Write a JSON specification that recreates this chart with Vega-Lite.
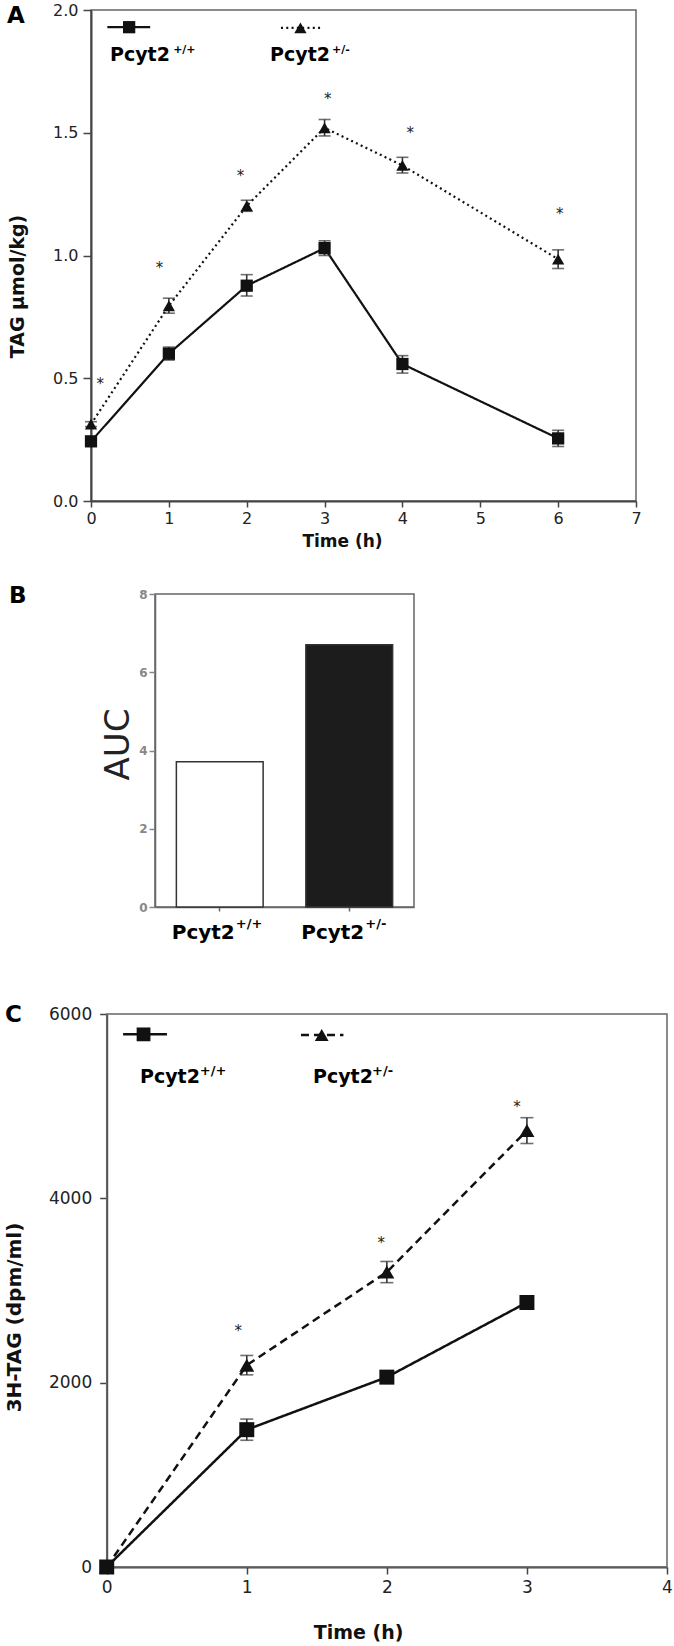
{
  "$schema": "https://vega.github.io/schema/vega-lite/v6.json",
  "padding": {"left": 4, "right": 0, "top": 1, "bottom": 0},
  "background": "white",
  "config": {
    "view": {"stroke": "#666", "strokeWidth": 1.5},
    "axis": {"grid": false, "domainColor": "#444", "domainWidth": 2, "tickColor": "#444", "tickWidth": 1.5, "labelColor": "#222", "labelFont": "DejaVu Sans", "titleFont": "DejaVu Sans", "titleColor": "#111", "labelFlush": false, "labelOverlap": false},
    "title": {"font": "DejaVu Sans", "fontWeight": "bold", "color": "#000", "anchor": "start", "frame": "group", "offset": 0, "baseline": "alphabetic"}
  },
  "datasets": {
    "A": [
      {"t": 0, "v": 0.243, "lo": 0.228, "hi": 0.258, "g": "+/+"},
      {"t": 1, "v": 0.600, "lo": 0.574, "hi": 0.627, "g": "+/+"},
      {"t": 2, "v": 0.877, "lo": 0.835, "hi": 0.922, "g": "+/+"},
      {"t": 3, "v": 1.030, "lo": 1.000, "hi": 1.060, "g": "+/+"},
      {"t": 4, "v": 0.558, "lo": 0.521, "hi": 0.592, "g": "+/+"},
      {"t": 6, "v": 0.255, "lo": 0.222, "hi": 0.288, "g": "+/+"},
      {"t": 0, "v": 0.313, "lo": 0.303, "hi": 0.323, "g": "+/-"},
      {"t": 1, "v": 0.795, "lo": 0.765, "hi": 0.826, "g": "+/-"},
      {"t": 2, "v": 1.202, "lo": 1.180, "hi": 1.225, "g": "+/-"},
      {"t": 3, "v": 1.520, "lo": 1.487, "hi": 1.554, "g": "+/-"},
      {"t": 4, "v": 1.367, "lo": 1.336, "hi": 1.400, "g": "+/-"},
      {"t": 6, "v": 0.985, "lo": 0.947, "hi": 1.023, "g": "+/-"}
    ],
    "Astars": [
      {"t": 0.12, "v": 0.49}, {"t": 0.88, "v": 0.96}, {"t": 1.92, "v": 1.335},
      {"t": 3.04, "v": 1.65}, {"t": 4.10, "v": 1.512}, {"t": 6.02, "v": 1.182}
    ],
    "Aleg": [
      {"g": "+/+", "t": 0.21, "v": 1.93}, {"g": "+/+", "t": 0.76, "v": 1.93},
      {"g": "+/-", "t": 2.44, "v": 1.927}, {"g": "+/-", "t": 2.97, "v": 1.927}
    ],
    "AlegPts": [
      {"g": "+/+", "t": 0.49, "v": 1.93}, {"g": "+/-", "t": 2.69, "v": 1.927}
    ],
    "Alab": [
      {"t": 0.244, "v": 1.793, "s": "Pcyt2"}, {"t": 2.30, "v": 1.793, "s": "Pcyt2"}
    ],
    "Asup": [
      {"t": 1.055, "v": 1.824, "s": "+/+"}, {"t": 3.095, "v": 1.824, "s": "+/-"}
    ],
    "B": [
      {"g": "+/+", "v": 3.71, "main": "Pcyt2", "sup": "+/+"},
      {"g": "+/-", "v": 6.70, "main": "Pcyt2", "sup": "+/-"}
    ],
    "C": [
      {"t": 0, "v": 0, "lo": 0, "hi": 0, "g": "+/+"},
      {"t": 1, "v": 1490, "lo": 1375, "hi": 1605, "g": "+/+"},
      {"t": 2, "v": 2060, "lo": 1995, "hi": 2125, "g": "+/+"},
      {"t": 3, "v": 2870, "lo": 2835, "hi": 2905, "g": "+/+"},
      {"t": 0, "v": 0, "lo": 0, "hi": 0, "g": "+/-"},
      {"t": 1, "v": 2190, "lo": 2085, "hi": 2295, "g": "+/-"},
      {"t": 2, "v": 3200, "lo": 3085, "hi": 3315, "g": "+/-"},
      {"t": 3, "v": 4735, "lo": 4595, "hi": 4875, "g": "+/-"}
    ],
    "Cframe": [
      {"t0": 0, "t1": 4, "v0": 0, "v1": 6000}
    ],
    "Cstars": [
      {"t": 0.94, "v": 2590}, {"t": 1.96, "v": 3550}, {"t": 2.93, "v": 5020}
    ],
    "Cleg": [
      {"g": "+/+", "t": 0.117, "v": 5779}, {"g": "+/+", "t": 0.43, "v": 5779},
      {"g": "+/-", "t": 1.387, "v": 5772}, {"g": "+/-", "t": 1.69, "v": 5772}
    ],
    "ClegPts": [
      {"g": "+/+", "t": 0.263, "v": 5779}, {"g": "+/-", "t": 1.535, "v": 5772}
    ],
    "Clab": [
      {"t": 0.238, "v": 5254, "s": "Pcyt2"}, {"t": 1.473, "v": 5254, "s": "Pcyt2"}
    ],
    "Csup": [
      {"t": 0.665, "v": 5340, "s": "+/+"}, {"t": 1.894, "v": 5340, "s": "+/-"}
    ]
  },
  "columns": 1,
  "spacing": 59,
  "resolve": {"scale": {"strokeDash": "independent", "shape": "independent", "fill": "independent"}},
  "concat": [
    {
      "columns": 1,
      "spacing": 34,
      "resolve": {"scale": {"strokeDash": "independent", "shape": "independent"}},
      "concat": [
        {
          "width": 545,
          "height": 491,
          "title": {"text": "A", "fontSize": 23, "dx": -84, "dy": 30},
          "layer": [
            {
              "data": {"name": "A"},
              "mark": {"type": "line", "color": "#111", "strokeWidth": 2.2},
              "encoding": {
                "x": {"field": "t", "type": "quantitative", "scale": {"domain": [0, 7], "nice": false},
                  "axis": {"values": [0, 1, 2, 3, 4, 5, 6, 7], "format": "d", "title": "Time (h)", "titleFontSize": 17, "titleFontWeight": "bold", "titleX": 251, "titleY": 45, "titleAlign": "center", "titleBaseline": "alphabetic", "labelFontSize": 16, "tickSize": 6, "labelPadding": 3}},
                "y": {"field": "v", "type": "quantitative", "scale": {"domain": [0, 2], "nice": false},
                  "axis": {"values": [0, 0.5, 1, 1.5, 2], "format": ".1f", "title": "TAG μmol/kg)", "titleFontSize": 19, "titleFontWeight": "bold", "titleX": -68, "titleY": 276, "titleAngle": 270, "titleAlign": "center", "titleBaseline": "alphabetic", "labelFontSize": 16, "tickSize": 8, "labelPadding": 5}},
                "detail": {"field": "g"},
                "strokeDash": {"field": "g", "type": "nominal", "scale": {"domain": ["+/+", "+/-"], "range": [[1, 0], [2, 3.3]]}, "legend": null}
              }
            },
            {
              "data": {"name": "A"},
              "mark": {"type": "errorbar", "ticks": true, "size": 12, "thickness": 1.6, "color": "#333"},
              "encoding": {
                "x": {"field": "t", "type": "quantitative", "scale": {"domain": [0, 7], "nice": false},
                  "axis": {"values": [0, 1, 2, 3, 4, 5, 6, 7], "format": "d", "title": "Time (h)", "titleFontSize": 17, "titleFontWeight": "bold", "titleX": 251, "titleY": 45, "titleAlign": "center", "titleBaseline": "alphabetic", "labelFontSize": 16, "tickSize": 6, "labelPadding": 3}},
                "y": {"field": "lo", "type": "quantitative", "scale": {"domain": [0, 2], "nice": false},
                  "axis": {"values": [0, 0.5, 1, 1.5, 2], "format": ".1f", "title": "TAG μmol/kg)", "titleFontSize": 19, "titleFontWeight": "bold", "titleX": -68, "titleY": 276, "titleAngle": 270, "titleAlign": "center", "titleBaseline": "alphabetic", "labelFontSize": 16, "tickSize": 8, "labelPadding": 5}},
                "y2": {"field": "hi"},
                "detail": {"field": "g"}
              }
            },
            {
              "data": {"name": "A"},
              "mark": {"type": "point", "filled": true, "opacity": 1, "color": "#111", "size": 150},
              "encoding": {
                "x": {"field": "t", "type": "quantitative", "scale": {"domain": [0, 7], "nice": false},
                  "axis": {"values": [0, 1, 2, 3, 4, 5, 6, 7], "format": "d", "title": "Time (h)", "titleFontSize": 17, "titleFontWeight": "bold", "titleX": 251, "titleY": 45, "titleAlign": "center", "titleBaseline": "alphabetic", "labelFontSize": 16, "tickSize": 6, "labelPadding": 3}},
                "y": {"field": "v", "type": "quantitative", "scale": {"domain": [0, 2], "nice": false},
                  "axis": {"values": [0, 0.5, 1, 1.5, 2], "format": ".1f", "title": "TAG μmol/kg)", "titleFontSize": 19, "titleFontWeight": "bold", "titleX": -68, "titleY": 276, "titleAngle": 270, "titleAlign": "center", "titleBaseline": "alphabetic", "labelFontSize": 16, "tickSize": 8, "labelPadding": 5}},
                "shape": {"field": "g", "type": "nominal", "scale": {"domain": ["+/+", "+/-"], "range": ["square", "triangle-up"]}, "legend": null}
              }
            },
            {
              "data": {"name": "Aleg"},
              "mark": {"type": "line", "color": "#111", "strokeWidth": 2.2},
              "encoding": {
                "x": {"field": "t", "type": "quantitative", "scale": {"domain": [0, 7], "nice": false},
                  "axis": {"values": [0, 1, 2, 3, 4, 5, 6, 7], "format": "d", "title": "Time (h)", "titleFontSize": 17, "titleFontWeight": "bold", "titleX": 251, "titleY": 45, "titleAlign": "center", "titleBaseline": "alphabetic", "labelFontSize": 16, "tickSize": 6, "labelPadding": 3}},
                "y": {"field": "v", "type": "quantitative", "scale": {"domain": [0, 2], "nice": false},
                  "axis": {"values": [0, 0.5, 1, 1.5, 2], "format": ".1f", "title": "TAG μmol/kg)", "titleFontSize": 19, "titleFontWeight": "bold", "titleX": -68, "titleY": 276, "titleAngle": 270, "titleAlign": "center", "titleBaseline": "alphabetic", "labelFontSize": 16, "tickSize": 8, "labelPadding": 5}},
                "detail": {"field": "g"},
                "strokeDash": {"field": "g", "type": "nominal", "scale": {"domain": ["+/+", "+/-"], "range": [[1, 0], [2, 3.3]]}, "legend": null}
              }
            },
            {
              "data": {"name": "AlegPts"},
              "mark": {"type": "point", "filled": true, "opacity": 1, "color": "#111", "size": 150},
              "encoding": {
                "x": {"field": "t", "type": "quantitative", "scale": {"domain": [0, 7], "nice": false},
                  "axis": {"values": [0, 1, 2, 3, 4, 5, 6, 7], "format": "d", "title": "Time (h)", "titleFontSize": 17, "titleFontWeight": "bold", "titleX": 251, "titleY": 45, "titleAlign": "center", "titleBaseline": "alphabetic", "labelFontSize": 16, "tickSize": 6, "labelPadding": 3}},
                "y": {"field": "v", "type": "quantitative", "scale": {"domain": [0, 2], "nice": false},
                  "axis": {"values": [0, 0.5, 1, 1.5, 2], "format": ".1f", "title": "TAG μmol/kg)", "titleFontSize": 19, "titleFontWeight": "bold", "titleX": -68, "titleY": 276, "titleAngle": 270, "titleAlign": "center", "titleBaseline": "alphabetic", "labelFontSize": 16, "tickSize": 8, "labelPadding": 5}},
                "shape": {"field": "g", "type": "nominal", "scale": {"domain": ["+/+", "+/-"], "range": ["square", "triangle-up"]}, "legend": null}
              }
            },
            {
              "data": {"name": "Astars"},
              "mark": {"type": "text", "text": "*", "font": "DejaVu Sans", "fontSize": 15, "color": "#222", "baseline": "middle", "align": "center", "dy": 3},
              "encoding": {
                "x": {"field": "t", "type": "quantitative", "scale": {"domain": [0, 7], "nice": false},
                  "axis": {"values": [0, 1, 2, 3, 4, 5, 6, 7], "format": "d", "title": "Time (h)", "titleFontSize": 17, "titleFontWeight": "bold", "titleX": 251, "titleY": 45, "titleAlign": "center", "titleBaseline": "alphabetic", "labelFontSize": 16, "tickSize": 6, "labelPadding": 3}},
                "y": {"field": "v", "type": "quantitative", "scale": {"domain": [0, 2], "nice": false},
                  "axis": {"values": [0, 0.5, 1, 1.5, 2], "format": ".1f", "title": "TAG μmol/kg)", "titleFontSize": 19, "titleFontWeight": "bold", "titleX": -68, "titleY": 276, "titleAngle": 270, "titleAlign": "center", "titleBaseline": "alphabetic", "labelFontSize": 16, "tickSize": 8, "labelPadding": 5}}
              }
            },
            {
              "data": {"name": "Alab"},
              "mark": {"type": "text", "font": "DejaVu Sans", "fontWeight": "bold", "fontSize": 19, "color": "#000", "baseline": "alphabetic", "align": "left"},
              "encoding": {
                "x": {"field": "t", "type": "quantitative", "scale": {"domain": [0, 7], "nice": false},
                  "axis": {"values": [0, 1, 2, 3, 4, 5, 6, 7], "format": "d", "title": "Time (h)", "titleFontSize": 17, "titleFontWeight": "bold", "titleX": 251, "titleY": 45, "titleAlign": "center", "titleBaseline": "alphabetic", "labelFontSize": 16, "tickSize": 6, "labelPadding": 3}},
                "y": {"field": "v", "type": "quantitative", "scale": {"domain": [0, 2], "nice": false},
                  "axis": {"values": [0, 0.5, 1, 1.5, 2], "format": ".1f", "title": "TAG μmol/kg)", "titleFontSize": 19, "titleFontWeight": "bold", "titleX": -68, "titleY": 276, "titleAngle": 270, "titleAlign": "center", "titleBaseline": "alphabetic", "labelFontSize": 16, "tickSize": 8, "labelPadding": 5}},
                "text": {"field": "s"}
              }
            },
            {
              "data": {"name": "Asup"},
              "mark": {"type": "text", "font": "DejaVu Sans", "fontWeight": "bold", "fontSize": 11, "color": "#000", "baseline": "alphabetic", "align": "left"},
              "encoding": {
                "x": {"field": "t", "type": "quantitative", "scale": {"domain": [0, 7], "nice": false},
                  "axis": {"values": [0, 1, 2, 3, 4, 5, 6, 7], "format": "d", "title": "Time (h)", "titleFontSize": 17, "titleFontWeight": "bold", "titleX": 251, "titleY": 45, "titleAlign": "center", "titleBaseline": "alphabetic", "labelFontSize": 16, "tickSize": 6, "labelPadding": 3}},
                "y": {"field": "v", "type": "quantitative", "scale": {"domain": [0, 2], "nice": false},
                  "axis": {"values": [0, 0.5, 1, 1.5, 2], "format": ".1f", "title": "TAG μmol/kg)", "titleFontSize": 19, "titleFontWeight": "bold", "titleX": -68, "titleY": 276, "titleAngle": 270, "titleAlign": "center", "titleBaseline": "alphabetic", "labelFontSize": 16, "tickSize": 8, "labelPadding": 5}},
                "text": {"field": "s"}
              }
            }
          ]
        },
        {
          "spacing": 8,
          "hconcat": [
            {
              "width": 1,
              "height": 313,
              "view": {"stroke": null},
              "title": {"text": "B", "fontSize": 23, "dx": -82, "dy": 17.6},
              "data": {"values": [{"n": 0}]},
              "mark": {"type": "text", "text": ""}
            },
            {
              "width": 259,
              "height": 313,
              "data": {"name": "B"},
              "layer": [
                {
                  "mark": {"type": "bar", "stroke": "#333", "strokeWidth": 1.5},
                  "encoding": {
                    "x": {"field": "g", "type": "nominal", "sort": ["+/+", "+/-"], "scale": {"paddingInner": 0.33, "paddingOuter": 0.165},
                      "axis": {"labels": false, "title": null, "ticks": true, "tickSize": 4, "tickColor": "#666", "domainColor": "#666", "domainWidth": 1.5}},
                    "y": {"field": "v", "type": "quantitative", "scale": {"domain": [0, 8], "nice": false},
                      "axis": {"values": [0, 2, 4, 6, 8], "title": "AUC", "titleFontSize": 34, "titleFontWeight": "normal", "titleColor": "#222", "titleX": -27, "titleY": 150, "titleAngle": 270, "titleAlign": "center", "titleBaseline": "alphabetic", "labelFontSize": 12, "labelFontWeight": "bold", "labelColor": "#888", "tickColor": "#888", "tickSize": 6, "labelPadding": 2, "domainColor": "#666", "domainWidth": 1.5}},
                    "fill": {"field": "g", "type": "nominal", "scale": {"domain": ["+/+", "+/-"], "range": ["#ffffff", "#1c1c1c"]}, "legend": null}
                  }
                },
                {
                  "mark": {"type": "text", "font": "DejaVu Sans", "fontWeight": "bold", "fontSize": 20, "color": "#000", "align": "right", "baseline": "alphabetic", "dx": 15},
                  "encoding": {
                    "x": {"field": "g", "type": "nominal", "sort": ["+/+", "+/-"], "scale": {"paddingInner": 0.33, "paddingOuter": 0.165},
                      "axis": {"labels": false, "title": null, "ticks": true, "tickSize": 4, "tickColor": "#666", "domainColor": "#666", "domainWidth": 1.5}},
                    "y": {"datum": -0.826, "type": "quantitative", "scale": {"domain": [0, 8], "nice": false},
                      "axis": {"values": [0, 2, 4, 6, 8], "title": "AUC", "titleFontSize": 34, "titleFontWeight": "normal", "titleColor": "#222", "titleX": -27, "titleY": 150, "titleAngle": 270, "titleAlign": "center", "titleBaseline": "alphabetic", "labelFontSize": 12, "labelFontWeight": "bold", "labelColor": "#888", "tickColor": "#888", "tickSize": 6, "labelPadding": 2, "domainColor": "#666", "domainWidth": 1.5}},
                    "text": {"field": "main"}
                  }
                },
                {
                  "mark": {"type": "text", "font": "DejaVu Sans", "fontWeight": "bold", "fontSize": 13, "color": "#000", "align": "left", "baseline": "alphabetic", "dx": 16},
                  "encoding": {
                    "x": {"field": "g", "type": "nominal", "sort": ["+/+", "+/-"], "scale": {"paddingInner": 0.33, "paddingOuter": 0.165},
                      "axis": {"labels": false, "title": null, "ticks": true, "tickSize": 4, "tickColor": "#666", "domainColor": "#666", "domainWidth": 1.5}},
                    "y": {"datum": -0.545, "type": "quantitative", "scale": {"domain": [0, 8], "nice": false},
                      "axis": {"values": [0, 2, 4, 6, 8], "title": "AUC", "titleFontSize": 34, "titleFontWeight": "normal", "titleColor": "#222", "titleX": -27, "titleY": 150, "titleAngle": 270, "titleAlign": "center", "titleBaseline": "alphabetic", "labelFontSize": 12, "labelFontWeight": "bold", "labelColor": "#888", "tickColor": "#888", "tickSize": 6, "labelPadding": 2, "domainColor": "#666", "domainWidth": 1.5}},
                    "text": {"field": "sup"}
                  }
                }
              ]
            }
          ]
        }
      ]
    },
    {
      "width": 576,
      "height": 553,
      "view": {"stroke": null},
      "title": {"text": "C", "fontSize": 23, "dx": -86, "dy": 26},
      "layer": [
        {
          "data": {"name": "Cframe"},
          "mark": {"type": "rect", "filled": false, "color": "#666", "strokeWidth": 1.5},
          "encoding": {
            "x": {"field": "t0", "type": "quantitative", "scale": {"domain": [0, 4], "range": [15.7, 576], "nice": false},
              "axis": {"values": [0, 1, 2, 3, 4], "format": "d", "title": "Time (h)", "titleFontSize": 19, "titleFontWeight": "bold", "titleX": 267, "titleY": 71, "titleAlign": "center", "titleBaseline": "alphabetic", "labelFontSize": 17, "tickSize": 7, "labelPadding": 5}},
            "x2": {"field": "t1"},
            "y": {"field": "v0", "type": "quantitative", "scale": {"domain": [0, 6000], "nice": false},
              "axis": {"values": [0, 2000, 4000, 6000], "format": "d", "title": "3H-TAG (dpm/ml)", "titleFontSize": 20, "titleFontWeight": "bold", "titleX": -86, "titleY": 303, "titleAngle": 270, "titleAlign": "center", "titleBaseline": "alphabetic", "labelFontSize": 17, "tickSize": 7, "labelPadding": 8, "offset": -15.7}},
            "y2": {"field": "v1"}
          }
        },
        {
          "data": {"name": "C"},
          "mark": {"type": "line", "color": "#111", "strokeWidth": 2.5},
          "encoding": {
            "x": {"field": "t", "type": "quantitative", "scale": {"domain": [0, 4], "range": [15.7, 576], "nice": false},
              "axis": {"values": [0, 1, 2, 3, 4], "format": "d", "title": "Time (h)", "titleFontSize": 19, "titleFontWeight": "bold", "titleX": 267, "titleY": 71, "titleAlign": "center", "titleBaseline": "alphabetic", "labelFontSize": 17, "tickSize": 7, "labelPadding": 5}},
            "y": {"field": "v", "type": "quantitative", "scale": {"domain": [0, 6000], "nice": false},
              "axis": {"values": [0, 2000, 4000, 6000], "format": "d", "title": "3H-TAG (dpm/ml)", "titleFontSize": 20, "titleFontWeight": "bold", "titleX": -86, "titleY": 303, "titleAngle": 270, "titleAlign": "center", "titleBaseline": "alphabetic", "labelFontSize": 17, "tickSize": 7, "labelPadding": 8, "offset": -15.7}},
            "detail": {"field": "g"},
            "strokeDash": {"field": "g", "type": "nominal", "scale": {"domain": ["+/+", "+/-"], "range": [[1, 0], [8, 5]]}, "legend": null}
          }
        },
        {
          "data": {"name": "C"},
          "transform": [{"filter": "datum.t > 0"}],
          "mark": {"type": "errorbar", "ticks": true, "size": 13, "thickness": 1.6, "color": "#333"},
          "encoding": {
            "x": {"field": "t", "type": "quantitative", "scale": {"domain": [0, 4], "range": [15.7, 576], "nice": false},
              "axis": {"values": [0, 1, 2, 3, 4], "format": "d", "title": "Time (h)", "titleFontSize": 19, "titleFontWeight": "bold", "titleX": 267, "titleY": 71, "titleAlign": "center", "titleBaseline": "alphabetic", "labelFontSize": 17, "tickSize": 7, "labelPadding": 5}},
            "y": {"field": "lo", "type": "quantitative", "scale": {"domain": [0, 6000], "nice": false},
              "axis": {"values": [0, 2000, 4000, 6000], "format": "d", "title": "3H-TAG (dpm/ml)", "titleFontSize": 20, "titleFontWeight": "bold", "titleX": -86, "titleY": 303, "titleAngle": 270, "titleAlign": "center", "titleBaseline": "alphabetic", "labelFontSize": 17, "tickSize": 7, "labelPadding": 8, "offset": -15.7}},
            "y2": {"field": "hi"},
            "detail": {"field": "g"}
          }
        },
        {
          "data": {"name": "C"},
          "mark": {"type": "point", "filled": true, "opacity": 1, "color": "#111", "size": 225},
          "encoding": {
            "x": {"field": "t", "type": "quantitative", "scale": {"domain": [0, 4], "range": [15.7, 576], "nice": false},
              "axis": {"values": [0, 1, 2, 3, 4], "format": "d", "title": "Time (h)", "titleFontSize": 19, "titleFontWeight": "bold", "titleX": 267, "titleY": 71, "titleAlign": "center", "titleBaseline": "alphabetic", "labelFontSize": 17, "tickSize": 7, "labelPadding": 5}},
            "y": {"field": "v", "type": "quantitative", "scale": {"domain": [0, 6000], "nice": false},
              "axis": {"values": [0, 2000, 4000, 6000], "format": "d", "title": "3H-TAG (dpm/ml)", "titleFontSize": 20, "titleFontWeight": "bold", "titleX": -86, "titleY": 303, "titleAngle": 270, "titleAlign": "center", "titleBaseline": "alphabetic", "labelFontSize": 17, "tickSize": 7, "labelPadding": 8, "offset": -15.7}},
            "shape": {"field": "g", "type": "nominal", "scale": {"domain": ["+/+", "+/-"], "range": ["square", "triangle-up"]}, "legend": null},
            "order": {"field": "g", "sort": "ascending"}
          }
        },
        {
          "data": {"name": "Cleg"},
          "mark": {"type": "line", "color": "#111", "strokeWidth": 2.5},
          "encoding": {
            "x": {"field": "t", "type": "quantitative", "scale": {"domain": [0, 4], "range": [15.7, 576], "nice": false},
              "axis": {"values": [0, 1, 2, 3, 4], "format": "d", "title": "Time (h)", "titleFontSize": 19, "titleFontWeight": "bold", "titleX": 267, "titleY": 71, "titleAlign": "center", "titleBaseline": "alphabetic", "labelFontSize": 17, "tickSize": 7, "labelPadding": 5}},
            "y": {"field": "v", "type": "quantitative", "scale": {"domain": [0, 6000], "nice": false},
              "axis": {"values": [0, 2000, 4000, 6000], "format": "d", "title": "3H-TAG (dpm/ml)", "titleFontSize": 20, "titleFontWeight": "bold", "titleX": -86, "titleY": 303, "titleAngle": 270, "titleAlign": "center", "titleBaseline": "alphabetic", "labelFontSize": 17, "tickSize": 7, "labelPadding": 8, "offset": -15.7}},
            "detail": {"field": "g"},
            "strokeDash": {"field": "g", "type": "nominal", "scale": {"domain": ["+/+", "+/-"], "range": [[1, 0], [8, 5]]}, "legend": null}
          }
        },
        {
          "data": {"name": "ClegPts"},
          "mark": {"type": "point", "filled": true, "opacity": 1, "color": "#111", "size": 190},
          "encoding": {
            "x": {"field": "t", "type": "quantitative", "scale": {"domain": [0, 4], "range": [15.7, 576], "nice": false},
              "axis": {"values": [0, 1, 2, 3, 4], "format": "d", "title": "Time (h)", "titleFontSize": 19, "titleFontWeight": "bold", "titleX": 267, "titleY": 71, "titleAlign": "center", "titleBaseline": "alphabetic", "labelFontSize": 17, "tickSize": 7, "labelPadding": 5}},
            "y": {"field": "v", "type": "quantitative", "scale": {"domain": [0, 6000], "nice": false},
              "axis": {"values": [0, 2000, 4000, 6000], "format": "d", "title": "3H-TAG (dpm/ml)", "titleFontSize": 20, "titleFontWeight": "bold", "titleX": -86, "titleY": 303, "titleAngle": 270, "titleAlign": "center", "titleBaseline": "alphabetic", "labelFontSize": 17, "tickSize": 7, "labelPadding": 8, "offset": -15.7}},
            "shape": {"field": "g", "type": "nominal", "scale": {"domain": ["+/+", "+/-"], "range": ["square", "triangle-up"]}, "legend": null}
          }
        },
        {
          "data": {"name": "Cstars"},
          "mark": {"type": "text", "text": "*", "font": "DejaVu Sans", "fontSize": 15, "color": "#222", "baseline": "middle", "align": "center", "dy": 3},
          "encoding": {
            "x": {"field": "t", "type": "quantitative", "scale": {"domain": [0, 4], "range": [15.7, 576], "nice": false},
              "axis": {"values": [0, 1, 2, 3, 4], "format": "d", "title": "Time (h)", "titleFontSize": 19, "titleFontWeight": "bold", "titleX": 267, "titleY": 71, "titleAlign": "center", "titleBaseline": "alphabetic", "labelFontSize": 17, "tickSize": 7, "labelPadding": 5}},
            "y": {"field": "v", "type": "quantitative", "scale": {"domain": [0, 6000], "nice": false},
              "axis": {"values": [0, 2000, 4000, 6000], "format": "d", "title": "3H-TAG (dpm/ml)", "titleFontSize": 20, "titleFontWeight": "bold", "titleX": -86, "titleY": 303, "titleAngle": 270, "titleAlign": "center", "titleBaseline": "alphabetic", "labelFontSize": 17, "tickSize": 7, "labelPadding": 8, "offset": -15.7}}
          }
        },
        {
          "data": {"name": "Clab"},
          "mark": {"type": "text", "font": "DejaVu Sans", "fontWeight": "bold", "fontSize": 19, "color": "#000", "baseline": "alphabetic", "align": "left"},
          "encoding": {
            "x": {"field": "t", "type": "quantitative", "scale": {"domain": [0, 4], "range": [15.7, 576], "nice": false},
              "axis": {"values": [0, 1, 2, 3, 4], "format": "d", "title": "Time (h)", "titleFontSize": 19, "titleFontWeight": "bold", "titleX": 267, "titleY": 71, "titleAlign": "center", "titleBaseline": "alphabetic", "labelFontSize": 17, "tickSize": 7, "labelPadding": 5}},
            "y": {"field": "v", "type": "quantitative", "scale": {"domain": [0, 6000], "nice": false},
              "axis": {"values": [0, 2000, 4000, 6000], "format": "d", "title": "3H-TAG (dpm/ml)", "titleFontSize": 20, "titleFontWeight": "bold", "titleX": -86, "titleY": 303, "titleAngle": 270, "titleAlign": "center", "titleBaseline": "alphabetic", "labelFontSize": 17, "tickSize": 7, "labelPadding": 8, "offset": -15.7}},
            "text": {"field": "s"}
          }
        },
        {
          "data": {"name": "Csup"},
          "mark": {"type": "text", "font": "DejaVu Sans", "fontWeight": "bold", "fontSize": 13, "color": "#000", "baseline": "alphabetic", "align": "left"},
          "encoding": {
            "x": {"field": "t", "type": "quantitative", "scale": {"domain": [0, 4], "range": [15.7, 576], "nice": false},
              "axis": {"values": [0, 1, 2, 3, 4], "format": "d", "title": "Time (h)", "titleFontSize": 19, "titleFontWeight": "bold", "titleX": 267, "titleY": 71, "titleAlign": "center", "titleBaseline": "alphabetic", "labelFontSize": 17, "tickSize": 7, "labelPadding": 5}},
            "y": {"field": "v", "type": "quantitative", "scale": {"domain": [0, 6000], "nice": false},
              "axis": {"values": [0, 2000, 4000, 6000], "format": "d", "title": "3H-TAG (dpm/ml)", "titleFontSize": 20, "titleFontWeight": "bold", "titleX": -86, "titleY": 303, "titleAngle": 270, "titleAlign": "center", "titleBaseline": "alphabetic", "labelFontSize": 17, "tickSize": 7, "labelPadding": 8, "offset": -15.7}},
            "text": {"field": "s"}
          }
        }
      ]
    }
  ]
}
